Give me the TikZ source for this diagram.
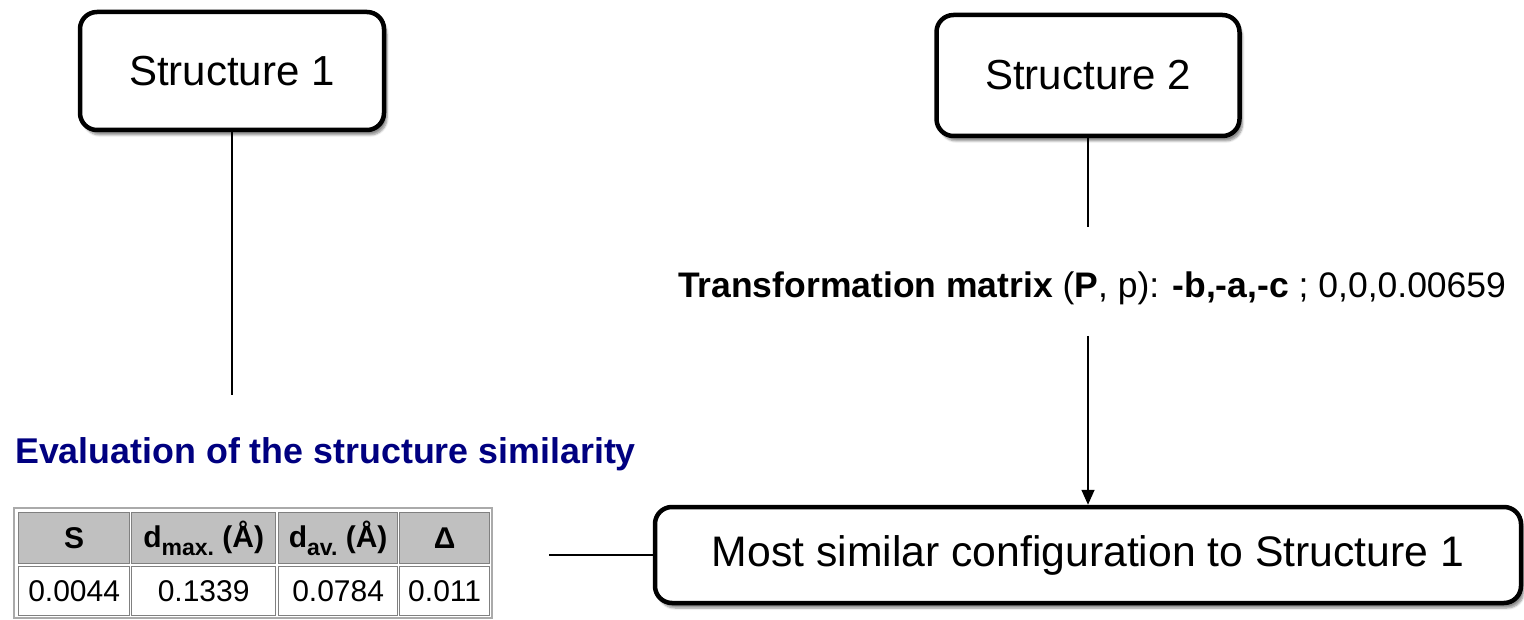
\documentclass[tikz,border=0pt]{standalone}
\usepackage{fontspec}
\setmainfont{Liberation Sans}
\usetikzlibrary{shadows.blur,arrows.meta}
\definecolor{navy}{RGB}{0,0,128}
\definecolor{hdrgray}{RGB}{192,192,192}
\definecolor{cellline}{RGB}{128,128,128}
\definecolor{tabline}{RGB}{170,170,170}
\tikzset{
  roundbox/.style={draw=black, line width=4.5pt, rounded corners=17pt, fill=white,
    blur shadow={shadow xshift=3pt, shadow yshift=-5pt, shadow blur steps=6, shadow opacity=45},
    font=\fontsize{42}{50}\selectfont, inner sep=0pt},
  conn/.style={draw=black, line width=1.6pt},
  cell/.style={draw=cellline, line width=1.3pt, anchor=north west, inner sep=0pt,
    font=\fontsize{30}{34}\selectfont},
  hcell/.style={cell, fill=hdrgray, font=\fontsize{30}{34}\selectfont\bfseries},
  dcell/.style={cell, fill=white}
}
\newcommand{\sbsc}[1]{\raisebox{-0.28em}{\fontsize{23}{23}\selectfont #1}}
\begin{document}
\begin{tikzpicture}[x=1pt,y=-1pt]
\useasboundingbox (0,0) rectangle (1524,620);
% boxes
\node[roundbox, minimum width=304pt, minimum height=118pt] (s1) at (232,71) {Structure 1};
\node[roundbox, minimum width=303pt, minimum height=121pt] (s2) at (1088,75.5) {Structure 2};
\node[roundbox, minimum width=866pt, minimum height=96pt, font=\fontsize{42.7}{50}\selectfont] (mb) at (1088,555) {Most similar configuration to Structure 1};
% free ends
\coordinate (c1) at (232,395);
\coordinate (c2) at (1088,227);
\coordinate (c3) at (1088,336);
\coordinate (c4) at (549,555);
% texts
\node[anchor=base, inner sep=0pt, font=\fontsize{35.5}{42}\selectfont] (tm) at (1092,298)
  {\textbf{Transformation matrix} (\textbf{P}, p): \textbf{-b,-a,-c} ; 0,0,0.00659};
\node[anchor=base west, inner sep=0pt, text=navy, font=\fontsize{35.8}{42}\selectfont\bfseries] (ev) at (15,463)
  {Evaluation of the structure similarity};
% connectors
\draw[conn] (s1.south) -- (c1);
\draw[conn] (s2.south) -- (c2);
\draw[conn, -{Triangle[length=15pt,width=13pt]}] (c3) -- (mb.north);
\draw[conn] (c4) -- (mb.west);
% table
\draw[tabline, line width=2pt] (14,508) rectangle (492,618);
\node[hcell, minimum width=111pt, minimum height=51pt] (h1) at (18,512) {S};
\node[hcell, minimum width=144pt, minimum height=51pt] (h2) at (131,512) {d\sbsc{max.} (Å)};
\node[hcell, minimum width=119pt, minimum height=51pt] (h3) at (278,512) {d\sbsc{av.} (Å)};
\node[hcell, minimum width=90pt, minimum height=51pt] (h4) at (399,512) {Δ};
\node[dcell, minimum width=111pt, minimum height=49pt] (d1) at (18,566) {0.0044};
\node[dcell, minimum width=144pt, minimum height=49pt] (d2) at (131,566) {0.1339};
\node[dcell, minimum width=119pt, minimum height=49pt] (d3) at (278,566) {0.0784};
\node[dcell, minimum width=90pt, minimum height=49pt] (d4) at (399,566) {0.011};
\end{tikzpicture}
\end{document}
